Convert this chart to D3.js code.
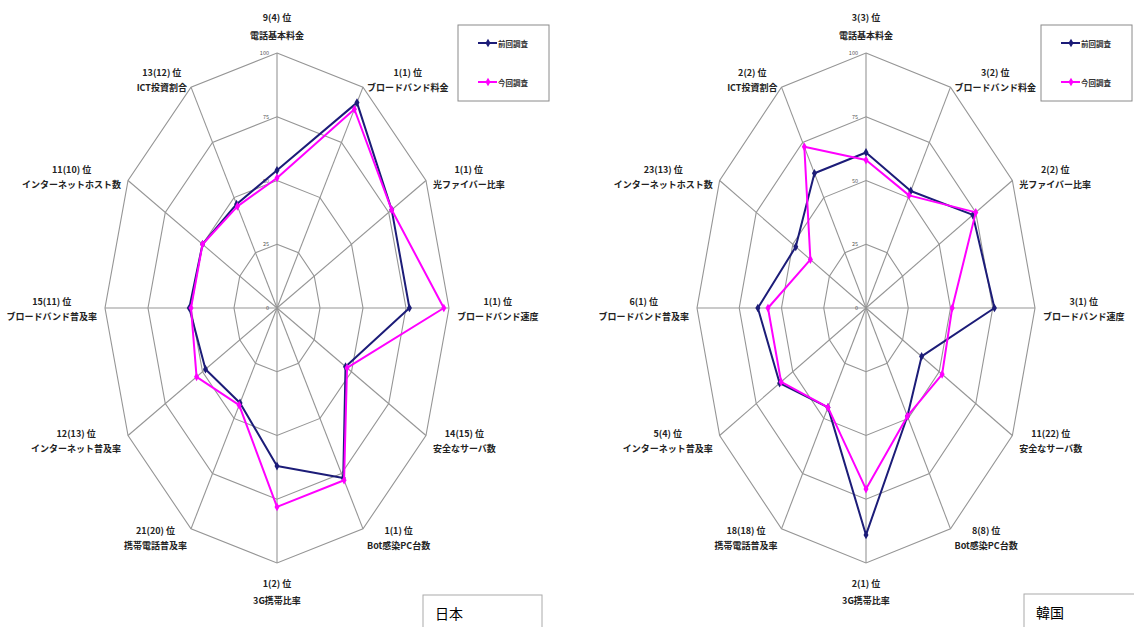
<!DOCTYPE html>
<html>
<head>
<meta charset="utf-8">
<style>
  body { margin: 0; background: #fff; }
  svg text { font-family: "Noto Sans CJK JP", "Noto Sans", sans-serif; }
</style>
</head>
<body>
<svg id="chart" width="1134" height="627"></svg>
<script src="https://d3js.org/d3.v7.min.js"></script>
<script>
    // axes, clockwise from the top
    const axisNames = ["電話基本料金", "ブロードバンド料金", "光ファイバー比率", "ブロードバンド速度",
        "安全なサーバ数", "Bot感染PC台数", "3G携帯比率", "携帯電話普及率",
        "インターネット普及率", "ブロードバンド普及率", "インターネットホスト数", "ICT投資割合"];
    const seriesNames = ["前回調査", "今回調査"];
    const ringTicks = [0, 25, 50, 75, 100];

    const japanRanks = ["9(4) 位", "1(1) 位", "1(1) 位", "1(1) 位", "14(15) 位", "1(1) 位",
        "1(2) 位", "21(20) 位", "12(13) 位", "15(11) 位", "11(10) 位", "13(12) 位"];
    const japanPrev = [54, 93, 77, 77, 46, 77, 62, 43, 48, 51, 50, 47];
    const japanCurr = [51, 90, 77, 97, 47, 78, 78, 44, 54, 50, 50, 46];

    const koreaRanks = ["3(3) 位", "3(2) 位", "2(2) 位", "3(1) 位", "11(22) 位", "8(8) 位",
        "2(1) 位", "18(18) 位", "5(4) 位", "6(1) 位", "23(13) 位", "2(2) 位"];
    const koreaPrev = [61, 53, 73, 76, 38, 49, 89, 45, 59, 64, 48, 61];
    const koreaCurr = [58, 51, 75, 51, 52, 49, 71, 45, 58, 58, 38, 73];

    const colors = ["#1c1c78", "#ff00ff"];

    const svg = d3.select("#chart");

    const charts = [
        { name: "日本", ranks: japanRanks, series: [japanPrev, japanCurr],
          cx: 277, cy: 308, rx: 172, ry: 255, legend: [458, 25], box: [423, 595] },
        { name: "韓国", ranks: koreaRanks, series: [koreaPrev, koreaCurr],
          cx: 866, cy: 308, rx: 169, ry: 255, legend: [1041, 25], box: [1024, 594] }
    ];

    const angle = d3.scaleLinear().domain([0, axisNames.length]).range([0, 2 * Math.PI]);

    charts.forEach(c => {
        const g = svg.append("g");
        const rX = d3.scaleLinear().domain([0, 100]).range([0, c.rx]);
        const rY = d3.scaleLinear().domain([0, 100]).range([0, c.ry]);
        const px = (v, i) => c.cx + rX(v) * Math.sin(angle(i));
        const py = (v, i) => c.cy - rY(v) * Math.cos(angle(i));

        const ring = d3.line()
            .x((d, i) => px(d, i))
            .y((d, i) => py(d, i))
            .curve(d3.curveLinearClosed);

        // grid rings
        g.selectAll(".ring")
            .data(ringTicks.filter(t => t > 0))
            .enter().append("path")
            .attr("d", t => ring(axisNames.map(() => t)))
            .attr("fill", "none")
            .attr("stroke", "#959595")
            .attr("stroke-width", 1.1);

        // spokes
        g.selectAll(".spoke")
            .data(axisNames)
            .enter().append("line")
            .attr("x1", c.cx).attr("y1", c.cy)
            .attr("x2", (d, i) => px(100, i))
            .attr("y2", (d, i) => py(100, i))
            .attr("stroke", "#959595")
            .attr("stroke-width", 1.1);

        // ring tick labels on the top spoke
        g.selectAll(".tick")
            .data(ringTicks)
            .enter().append("text")
            .attr("x", c.cx - 8)
            .attr("y", t => py(t, 0))
            .attr("text-anchor", "end")
            .attr("dominant-baseline", "central")
            .attr("font-size", 5.5)
            .attr("fill", "#555")
            .text(t => t);

        // series
        c.series.forEach((vals, s) => {
            g.append("path")
                .attr("d", ring(vals))
                .attr("fill", "none")
                .attr("stroke", colors[s])
                .attr("stroke-width", 2)
                .attr("stroke-linejoin", "round");
            g.selectAll(".m" + s)
                .data(vals)
                .enter().append("path")
                .attr("d", d3.symbol(d3.symbolDiamond).size(22))
                .attr("transform", (d, i) => `translate(${px(d, i)},${py(d, i)})`)
                .attr("fill", colors[s]);
        });

        // axis labels (rank + name)
        axisNames.forEach((name, i) => {
            const a = angle(i), sn = Math.sin(a), cs = Math.cos(a);
            const vx = px(100, i), vy = py(100, i);
            const lab = g.append("g");
            const t1 = lab.append("text").text(c.ranks[i]);
            const t2 = lab.append("text").text(name);
            lab.selectAll("text")
                .attr("font-size", 9)
                .attr("font-weight", "bold")
                .attr("fill", "#222")
                .attr("text-anchor", "middle")
                .attr("dominant-baseline", "central");
            const w = Math.max(t1.node().getComputedTextLength(), t2.node().getComputedTextLength());
            let x, y1, y2;
            if (Math.abs(sn) < 0.01) {
                x = vx;
                if (cs > 0) { y1 = vy - 36; y2 = vy - 18; }
                else { y1 = vy + 20; y2 = vy + 37; }
            } else {
                x = vx + Math.sign(sn) * (8 * Math.abs(sn) + w / 2);
                const off = -9.5 * cs + 1;
                y1 = vy + off - 7.5;
                y2 = vy + off + 7.5;
            }
            t1.attr("x", x).attr("y", y1);
            t2.attr("x", x).attr("y", y2);
        });

        // legend
        const [lx, ly] = c.legend;
        const lg = g.append("g").attr("transform", `translate(${lx},${ly})`);
        lg.append("rect")
            .attr("width", 91).attr("height", 76)
            .attr("fill", "#fff")
            .attr("stroke", "#8a8a8a");
        seriesNames.forEach((n, s) => {
            const yy = 18 + s * 39;
            lg.append("line")
                .attr("x1", 20).attr("x2", 39)
                .attr("y1", yy).attr("y2", yy)
                .attr("stroke", colors[s]).attr("stroke-width", 2);
            lg.append("path")
                .attr("d", d3.symbol(d3.symbolDiamond).size(22))
                .attr("transform", `translate(30,${yy})`)
                .attr("fill", colors[s]);
            lg.append("text")
                .attr("x", 40).attr("y", yy)
                .attr("dominant-baseline", "central")
                .attr("font-size", 7.5)
                .attr("font-weight", "bold")
                .attr("fill", "#333")
                .text(n);
        });

        // country box
        const [bx, by] = c.box;
        svg.append("rect")
            .attr("x", bx).attr("y", by)
            .attr("width", 119).attr("height", 40)
            .attr("fill", "#fff")
            .attr("stroke", "#aaa");
        svg.append("text")
            .attr("x", bx + 12).attr("y", by + 18)
            .attr("dominant-baseline", "central")
            .attr("font-size", 14)
            .attr("fill", "#000")
            .text(c.name);
    });
</script>
</body>
</html>
